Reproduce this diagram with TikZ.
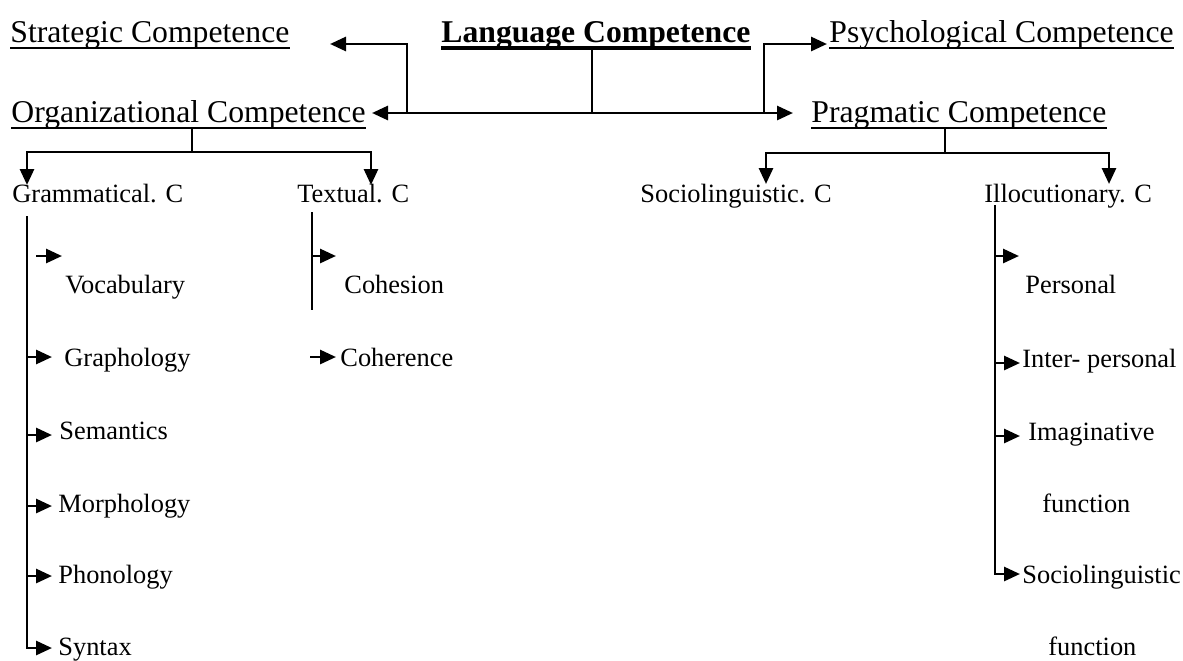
\documentclass[tikz,border=0pt]{standalone}
\usepackage{fontspec}
\setmainfont{Liberation Serif}
\usetikzlibrary{arrows.meta}
\begin{document}
\begin{tikzpicture}[x=0.5pt,y=-0.5pt,
  big/.style={anchor=base west,inner sep=0pt,font=\fontsize{15.85}{18}\selectfont},
  small/.style={anchor=base west,inner sep=0pt,font=\fontsize{13.2}{15}\selectfont},
  conn/.style={line width=1.4pt},
  arr/.style={conn,-{Triangle[length=8pt,width=7pt]}},
  ul/.style={line width=0.9pt},
  ulb/.style={line width=1.6pt}]
\useasboundingbox (0,0) rectangle (1183,660);

% top level texts
\node[big] (strat) at (10,42) {Strategic Competence};
\node[big,font=\fontsize{15.85}{18}\selectfont\bfseries] (lang) at (441,42) {Language Competence};
\node[big] (psy) at (829,42) {Psychological Competence};
\node[big] (org) at (11,122) {Organizational Competence};
\node[big] (prag) at (811,122) {Pragmatic Competence};

\foreach \n in {strat,org,psy,prag}
  {\draw[ul] ([yshift=-3pt]\n.base west) -- ([yshift=-3pt]\n.base east);}
\draw[ulb] ([yshift=-3pt]lang.base west) -- ([yshift=-3pt]lang.base east);

% second level
\node[small] (gram) at (12,202) {Grammatical. C};
\node[small] (text) at (297,202) {Textual. C};
\node[small] (socio) at (640,202) {Sociolinguistic. C};
\node[small] (illoc) at (984,202) {Illocutionary. C};

% grammatical items
\node[small] (voc) at (65,293) {Vocabulary};
\node[small] (graph) at (64,366) {Graphology};
\node[small] (sem) at (59,439) {Semantics};
\node[small] (morph) at (58,512) {Morphology};
\node[small] (phon) at (58,583) {Phonology};
\node[small] (syn) at (58,655) {Syntax};

% textual items
\node[small] (cohes) at (344,293) {Cohesion};
\node[small] (coher) at (340,366) {Coherence};

% illocutionary items
\node[small] (pers) at (1025,293) {Personal};
\node[small] (inter) at (1022,367) {Inter- personal};
\node[small] (imag) at (1028,440) {Imaginative};
\node[small] (func1) at (1042,512) {function};
\node[small] (sling) at (1022,583) {Sociolinguistic};
\node[small] (func2) at (1048,655) {function};

% junction coordinates
\coordinate (langfoot) at (592,48);
\coordinate (hub) at (592,113);
\coordinate (orgtip) at (372,113);
\coordinate (pragtip) at (793,113);
\coordinate (lj) at (407,113);
\coordinate (rj) at (764,113);
\coordinate (strattip) at (330,44);
\coordinate (psytip) at (827,44);

\draw[conn] (langfoot) -- (hub);
\draw[arr] (hub) -- (orgtip);
\draw[arr] (hub) -- (pragtip);
\draw[arr] (lj) |- (strattip);
\draw[arr] (rj) |- (psytip);

% organizational fork
\coordinate (orgfoot) at (192,129);
\coordinate (orgfork) at (192,152);
\coordinate (gramtip) at (27,185);
\coordinate (texttip) at (371,185);
\draw[conn] (orgfoot) -- (orgfork);
\draw[arr] (orgfork) -| (gramtip);
\draw[arr] (orgfork) -| (texttip);

% pragmatic fork
\coordinate (pragfoot) at (945,129);
\coordinate (pragfork) at (945,153);
\coordinate (sociotip) at (766,184);
\coordinate (illoctip) at (1109,184);
\draw[conn] (pragfoot) -- (pragfork);
\draw[arr] (pragfork) -| (sociotip);
\draw[arr] (pragfork) -| (illoctip);

% grammatical list
\coordinate (gtop) at (27,216);
\draw[arr] (gtop) |- (52,648);
\draw[arr] (27,357) -- (52,357);
\draw[arr] (27,435) -- (52,435);
\draw[arr] (27,506) -- (52,506);
\draw[arr] (27,576) -- (52,576);
\draw[arr] (36,256) -- (62,256);

% textual list
\draw[conn] (312,212) -- (312,310);
\draw[arr] (312,256) -- (336,256);
\draw[arr] (310,357) -- (336,357);

% illocutionary list
\coordinate (itop) at (995,205);
\draw[arr] (itop) |- (1020,574);
\draw[arr] (995,256) -- (1019,256);
\draw[arr] (995,363) -- (1020,363);
\draw[arr] (995,436) -- (1020,436);
\end{tikzpicture}
\end{document}
